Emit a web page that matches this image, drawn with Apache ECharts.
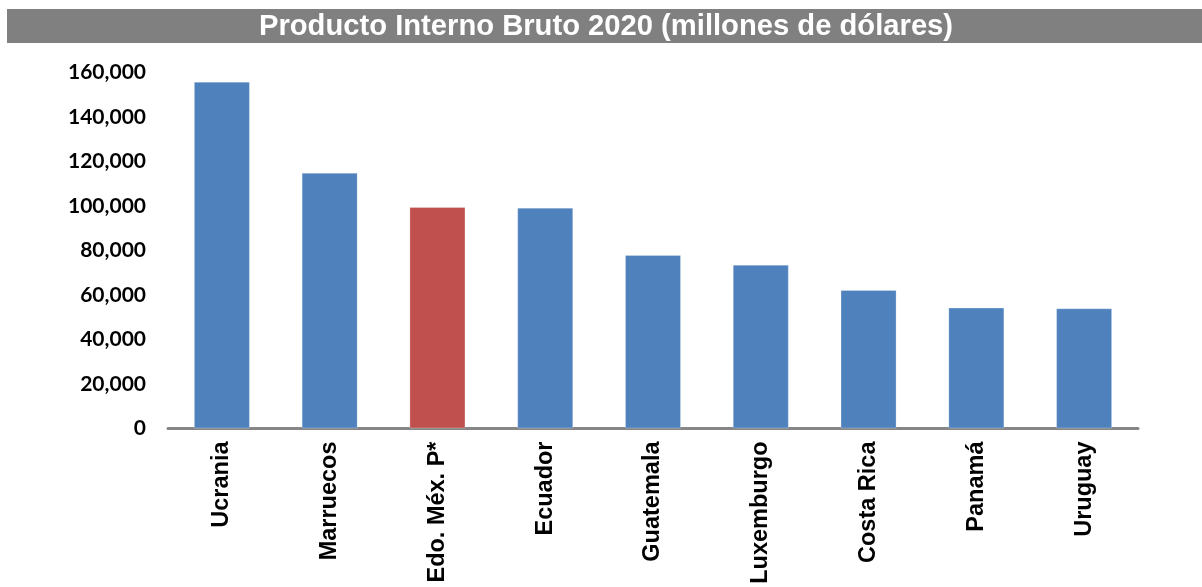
<!DOCTYPE html>
<html>
<head>
<meta charset="utf-8">
<script src="https://cdn.jsdelivr.net/npm/echarts@6/dist/echarts.min.js"></script>
<style>
  html, body { margin: 0; padding: 0; background: #ffffff; }
  #chart { width: 1202px; height: 587px; }
</style>
</head>
<body>
<div id="chart"></div>
<script>
// PIB 2020 por país (millones de dólares)
const categories = ['Ucrania', 'Marruecos', 'Edo. Méx. P*', 'Ecuador', 'Guatemala', 'Luxemburgo', 'Costa Rica', 'Panamá', 'Uruguay'];
const values = [155800, 114900, 99500, 99200, 77900, 73600, 62200, 54300, 54000];
const highlighted = 'Edo. Méx. P*';
const yTicks = [0, 20000, 40000, 60000, 80000, 100000, 120000, 140000, 160000];
const titleText = 'Producto Interno Bruto 2020 (millones de dólares)';

const BLUE = '#4F81BD';
const RED = '#C0504D';

const chart = echarts.init(document.getElementById('chart'), null, { renderer: 'canvas' });

chart.setOption({
  backgroundColor: '#ffffff',
  animation: false,
  graphic: [
    {
      type: 'rect',
      left: 7,
      top: 9,
      shape: { width: 1195, height: 34 },
      style: { fill: '#808080' },
      z: 0
    },
    {
      type: 'text',
      x: 606,
      y: 26.5,
      style: {
        text: titleText,
        fill: '#ffffff',
        font: 'bold 29.2px "Liberation Sans", Arial, sans-serif',
        align: 'center',
        verticalAlign: 'middle'
      },
      z: 1
    }
  ],
  grid: { left: 168, right: 64, top: 72.3, bottom: 158.5, containLabel: false },
  xAxis: {
    type: 'category',
    data: categories,
    axisLine: { show: true, lineStyle: { color: '#868686', width: 3 } },
    axisTick: { show: false },
    axisLabel: {
      rotate: 90,
      margin: 13,
      color: '#000000',
      fontFamily: '"Liberation Sans", Arial, sans-serif',
      fontWeight: 'bold',
      fontSize: 23.5
    }
  },
  yAxis: {
    type: 'value',
    min: yTicks[0],
    max: yTicks[yTicks.length - 1],
    interval: yTicks[1] - yTicks[0],
    axisLine: { show: false },
    axisTick: { show: false },
    splitLine: { show: false },
    axisLabel: {
      margin: 22,
      color: '#000000',
      fontFamily: 'Lato, "Open Sans", sans-serif',
      fontWeight: 'bold',
      fontSize: 21,
      formatter: v => v.toLocaleString('en-US')
    }
  },
  series: [
    {
      type: 'bar',
      barWidth: '52%',
      data: categories.map((c, i) => ({
        value: values[i],
        itemStyle: { color: c === highlighted ? RED : BLUE }
      })),
      itemStyle: { borderColor: 'rgba(255,255,255,0.25)', borderWidth: 1 }
    }
  ]
});
</script>
</body>
</html>
